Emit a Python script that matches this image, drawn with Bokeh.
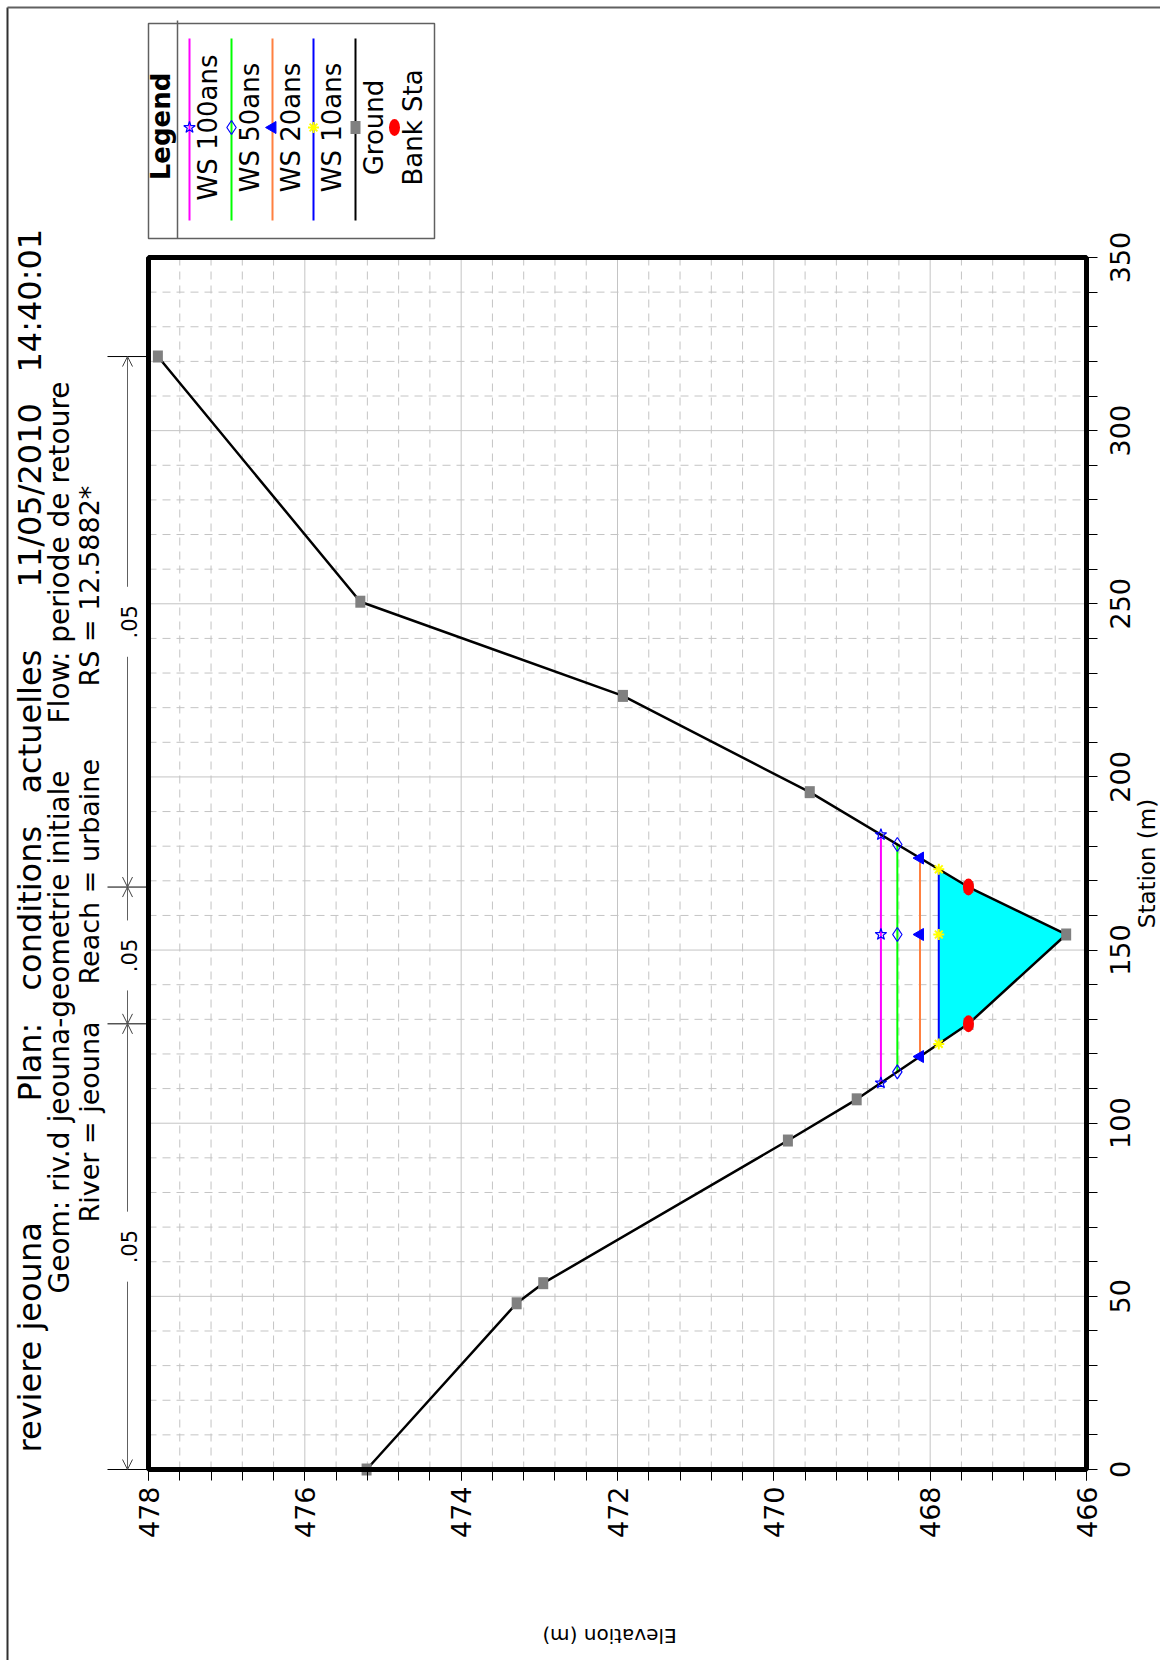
import math
import numpy as np
from bokeh.plotting import figure
from bokeh.models import Range1d, FixedTicker, Arrow, OpenHead
from bokeh.core.properties import value
from bokeh.embed import file_html
from bokeh.resources import INLINE

# ---------------- data ----------------
ground_sta = [0.0, 48.0, 53.8, 95.0, 106.9, 128.7, 154.5, 168.2, 195.6, 223.4, 250.6, 321.4]
ground_elev = [475.21, 473.29, 472.95, 469.82, 468.94, 467.51, 466.26, 467.51, 469.54, 471.93, 475.29, 477.88]
bank_sta = [128.7, 168.2]
ws_names = ["WS 100ans", "WS 50ans", "WS 20ans", "WS 10ans"]
ws_elev = [468.63, 468.42, 468.13, 467.89]
manning_n = [".05", ".05", ".05"]

elev_ticks = [466, 468, 470, 472, 474, 476, 478]
elev_minor = [466.0, 466.4, 466.8, 467.2, 467.6, 468.0, 468.4, 468.8, 469.2, 469.6,
              470.0, 470.4, 470.8, 471.2, 471.6, 472.0, 472.4, 472.8, 473.2, 473.6,
              474.0, 474.4, 474.8, 475.2, 475.6, 476.0, 476.4, 476.8, 477.2, 477.6, 478.0]
sta_ticks = [0, 50, 100, 150, 200, 250, 300, 350]
sta_minor = [0, 10, 20, 30, 40, 50, 60, 70, 80, 90, 100, 110, 120, 130, 140, 150, 160, 170,
             180, 190, 200, 210, 220, 230, 240, 250, 260, 270, 280, 290, 300, 310, 320, 330, 340, 350]

title_line1 = ["reviere jeouna", "Plan:", "conditions", "actuelles", "11/05/2010", "14:40:01"]
title_line2 = ["Geom: riv.d jeouna-geometrie initiale", "Flow: periode de retoure"]
title_line3 = ["River = jeouna", "Reach = urbaine", "RS = 12.5882*"]
legend_title = "Legend"
legend_names = ws_names + ["Ground", "Bank Sta"]
x_label = "Elevation (m)"
y_label = "Station (m)"

# ---------------- layout (page pixels) ----------------
W, H = 1160, 1660
FL, FR, FT, FB = 148, 1086, 257, 1469          # plot box on the page
E_LO, E_HI = 466.0, 478.0
S_LO, S_HI = 0.0, 350.0
PXE = (FR - FL) / (E_HI - E_LO)
PXS = (FB - FT) / (S_HI - S_LO)


def ex(px):   # page x -> elevation
    return E_HI - (px - FL) / PXE


def sy(py):   # page y -> station
    return (FB - py) / PXS


FONT = "DejaVu Sans"
p = figure(width=W, height=H, output_backend="svg", toolbar_location=None, title=None,
           x_range=Range1d(ex(0), ex(W)), y_range=Range1d(sy(H), sy(0)),
           x_axis_location="below", y_axis_location="right", min_border=0)
p.outline_line_color = None
p.grid.visible = False
p.background_fill_color = "white"
p.border_fill_color = "white"

# ---- grid ----
GRID = "#C4C4C4"
vmin = [e for e in elev_minor if e not in elev_ticks]
smin = [s for s in sta_minor if s not in sta_ticks]
p.segment(x0=vmin, y0=[S_LO] * len(vmin), x1=vmin, y1=[S_HI] * len(vmin),
          line_color=GRID, line_width=1, line_dash="8 6")
p.segment(x0=[E_HI] * len(smin), y0=smin, x1=[E_LO] * len(smin), y1=smin,
          line_color=GRID, line_width=1, line_dash="8 6")
p.segment(x0=elev_ticks, y0=[S_LO] * len(elev_ticks), x1=elev_ticks, y1=[S_HI] * len(elev_ticks),
          line_color=GRID, line_width=1)
p.segment(x0=[E_HI] * len(sta_ticks), y0=sta_ticks, x1=[E_LO] * len(sta_ticks), y1=sta_ticks,
          line_color=GRID, line_width=1)


# ---- water surfaces ----
def crossings(w):
    pts = []
    for i in range(len(ground_sta) - 1):
        e0, e1 = ground_elev[i], ground_elev[i + 1]
        if (e0 - w) * (e1 - w) < 0:
            t = (w - e0) / (e1 - e0)
            pts.append(ground_sta[i] + t * (ground_sta[i + 1] - ground_sta[i]))
    return pts[0], pts[-1]


thalweg = ground_sta[int(np.argmin(ground_elev))]

w_low = min(ws_elev)
l0, r0 = crossings(w_low)
inner = [(s, e) for s, e in zip(ground_sta, ground_elev) if l0 < s < r0]
p.patch(x=[w_low] + [e for s, e in inner] + [w_low],
        y=[l0] + [s for s, e in inner] + [r0],
        fill_color="#00FFFF", line_color=None)

ws_colors = ["#FF00FF", "#00FF00", "#FF8040", "#0000FF"]
ws_markers = [
    dict(marker="star", size=12, line_color="#0000FF", fill_color=None, line_width=1.2),
    dict(marker="diamond", size=14, line_color="#0000FF", fill_color=None, line_width=1.2),
    dict(marker="triangle", size=12, line_color="#0000FF", fill_color="#0000FF", angle=math.pi / 2),
    dict(marker="asterisk", size=11, line_color="#FFFF00", line_width=2),
]
ws_ends = []
for w, c in zip(ws_elev, ws_colors):
    a, b = crossings(w)
    ws_ends.append((a, b))
    p.line(x=[w, w], y=[a, b], line_color=c, line_width=2)

# ---- ground ----
p.line(x=ground_elev, y=ground_sta, line_color="black", line_width=2.5)
p.rect(x=ground_elev, y=ground_sta, width=10, height=12, width_units="screen", height_units="screen",
       fill_color="#808080", line_color=None)
bank_elev = list(np.interp(bank_sta, ground_sta, ground_elev))
p.ellipse(x=bank_elev, y=bank_sta, width=11, height=17, width_units="screen", height_units="screen",
          fill_color="#FF0000", line_color=None)
for w, (a, b), m in zip(ws_elev, ws_ends, ws_markers):
    p.scatter(x=[w, w, w], y=[a, thalweg, b], **m)

# ---- plot box ----
p.quad(left=E_HI, right=E_LO, bottom=S_LO, top=S_HI, fill_color=None, line_color="black", line_width=5)

# ---- axes (fixed at the plot box edges) ----
TICK_PX = 27
ax = p.xaxis[0]
ax.fixed_location = S_LO
ax.ticker = FixedTicker(ticks=elev_ticks, minor_ticks=elev_minor)
ax.bounds = (E_LO, E_HI)
ax.major_tick_out = 11
ax.major_label_standoff = 6

# right axis: labels read upward and start at their tick, so the label ticks are moved
# down by half a label's length to centre them; the visible ticks are the minor ticks
ay = p.yaxis[0]
ay.fixed_location = E_LO
half = [len(str(s)) * 0.636 * TICK_PX / 2 / PXS for s in sta_ticks]
lab_pos = [round(s - h, 3) for s, h in zip(sta_ticks, half)]
ay.ticker = FixedTicker(ticks=lab_pos, minor_ticks=sta_minor)
ay.major_label_overrides = {lp: str(s) for lp, s in zip(lab_pos, sta_ticks)}
ay.bounds = (-10, S_HI)
ay.major_tick_out = 0
ay.major_label_standoff = 23
for a_ in (ax, ay):
    a_.axis_line_color = None
    a_.major_tick_in = 0
    a_.minor_tick_out = 11
    a_.minor_tick_in = 0
    a_.major_tick_line_color = "black"
    a_.minor_tick_line_color = "black"
    a_.major_label_orientation = math.pi / 2
    a_.major_label_text_font = FONT
    a_.major_label_text_font_size = f"{TICK_PX}px"
    a_.major_label_text_color = "black"

TA = math.pi / 2
p.text(x=[ex(609)], y=[sy(1635)], text=[x_label], angle=math.pi, text_align="center",
       text_baseline="alphabetic", text_font=value(FONT), text_font_size=value("20px"), text_color="black")
p.text(x=[ex(1146)], y=[sy((FT + FB) / 2)], text=[y_label], angle=TA, text_align="center",
       text_baseline="alphabetic", text_font=value(FONT), text_font_size=value("23px"), text_color="black")

# ---- titles ----
line1_pos = [1452, 1101, 990, 793, 587, 372]
line2_pos = [1293, 723]
line3_pos = [1222, 984, 686]
for texts, pos, base, size in ((title_line1, line1_pos, 29, "32px"),
                               (title_line2, line2_pos, 59, "28px"),
                               (title_line3, line3_pos, 89, "27px")):
    p.text(x=[ex(base)] * len(texts), y=[sy(v) for v in pos], text=texts, angle=TA,
           text_align="left", text_baseline="alphabetic", text_font=value(FONT),
           text_font_size=value(size), text_color="black")

# ---- Manning's n bands ----
bounds = [ground_sta[0], bank_sta[0], bank_sta[1], ground_sta[-1]]
xa = ex(127)
gap = 35 / PXS
p.segment(x0=[ex(107)] * len(bounds), y0=bounds, x1=[E_HI] * len(bounds), y1=bounds,
          line_color="black", line_width=1)
mids = []
for i, n in enumerate(manning_n):
    b0, b1 = bounds[i], bounds[i + 1]
    m = (b0 + b1) / 2
    mids.append(m)
    p.add_layout(Arrow(x_start=xa, y_start=m - gap, x_end=xa, y_end=b0, line_color="#606060", line_width=1,
                       end=OpenHead(size=10, line_color="#404040", line_width=1)))
    p.add_layout(Arrow(x_start=xa, y_start=m + gap, x_end=xa, y_end=b1, line_color="#606060", line_width=1,
                       end=OpenHead(size=10, line_color="#404040", line_width=1)))
p.text(x=[ex(128)] * len(manning_n), y=mids, text=manning_n, angle=TA, text_align="center",
       text_baseline="alphabetic", text_font=value(FONT), text_font_size=value("21px"), text_color="black")

# ---- legend ----
p.quad(left=ex(148), right=ex(434), top=sy(23), bottom=sy(238), fill_color="white",
       line_color="#606060", line_width=1.5)
p.segment(x0=[ex(177)], y0=[sy(20)], x1=[ex(177)], y1=[sy(238)], line_color="#606060", line_width=1.5)
p.text(x=[ex(160)], y=[sy(126)], text=[legend_title], angle=TA, text_align="center", text_baseline="alphabetic",
       text_font=value(FONT), text_font_size=value("26px"), text_font_style="bold", text_color="black")
leg_px = [189, 231, 272, 313, 355, 394]
leg_line_colors = ws_colors + ["black"]
ym = sy(127)
for i, c in enumerate(leg_line_colors):
    p.line(x=[ex(leg_px[i])] * 2, y=[sy(38), sy(220)], line_color=c, line_width=2)
for i, m in enumerate(ws_markers):
    p.scatter(x=[ex(leg_px[i])], y=[ym], **m)
p.rect(x=[ex(leg_px[4])], y=[ym], width=10, height=13, width_units="screen", height_units="screen",
       fill_color="#808080", line_color=None)
p.ellipse(x=[ex(leg_px[5])], y=[ym], width=11, height=17, width_units="screen", height_units="screen",
          fill_color="#FF0000", line_color=None)
p.text(x=[ex(v + 18) for v in leg_px], y=[ym] * len(leg_px), text=legend_names, angle=TA,
       text_align="center", text_baseline="alphabetic", text_font=value(FONT),
       text_font_size=value("26px"), text_color="black")

# ---- page border (left and top) ----
p.segment(x0=[ex(7)], y0=[sy(7)], x1=[ex(7)], y1=[sy(H)], line_color="#303030", line_width=2)
p.segment(x0=[ex(7)], y0=[sy(7)], x1=[ex(W)], y1=[sy(7)], line_color="#606060", line_width=2)

open("out.html", "w").write(file_html(p, INLINE))
